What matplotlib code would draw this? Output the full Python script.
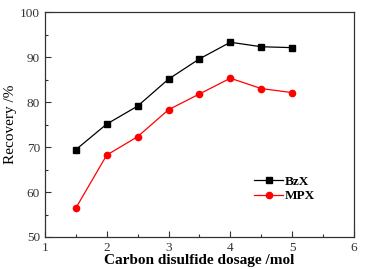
import matplotlib
matplotlib.use("Agg")
import matplotlib.pyplot as plt
from matplotlib.ticker import MultipleLocator

dosage = [1.5, 2.0, 2.5, 3.0, 3.5, 4.0, 4.5, 5.0]
bzx = [69.4, 75.1, 79.1, 85.1, 89.6, 93.3, 92.3, 92.1]
mpx = [56.4, 68.2, 72.3, 78.3, 81.8, 85.3, 83.0, 82.1]

plt.rcParams["font.family"] = ["Liberation Serif", "DejaVu Serif"]

fig = plt.figure(figsize=(3.77, 2.69), dpi=100)
ax = fig.add_axes([0.119, 0.119, 0.82, 0.836])

ax.plot(dosage, bzx, color="black", lw=0.9, marker="s", ms=4.5, label="BzX")
ax.plot(dosage, mpx, color="red", lw=0.9, marker="o", ms=4.5, label="MPX")

ax.set_xlim(1, 6)
ax.set_ylim(50, 100)
ax.xaxis.set_major_locator(MultipleLocator(1))
ax.xaxis.set_minor_locator(MultipleLocator(0.5))
ax.yaxis.set_major_locator(MultipleLocator(10))
ax.yaxis.set_minor_locator(MultipleLocator(5))
ax.tick_params(which="both", direction="in", top=False, right=False,
               labelsize=9.5, colors="#333333", width=0.8)
ax.tick_params(which="major", length=4)
ax.tick_params(which="minor", length=2.5)
for s in ax.spines.values():
    s.set_linewidth(0.9)
    s.set_color("#333333")

ax.set_xlabel("Carbon disulfide dosage /mol", fontsize=11,
              fontweight="semibold", labelpad=0)
ax.set_ylabel("Recovery /%", fontsize=11, labelpad=2)

ax.legend(loc="lower right", bbox_to_anchor=(0.89, 0.13), frameon=False,
          prop={"weight": "bold", "size": 9.5}, handlelength=2.2,
          handletextpad=0.1, labelspacing=0.2, borderaxespad=0)

fig.savefig("out.png", dpi=100)
